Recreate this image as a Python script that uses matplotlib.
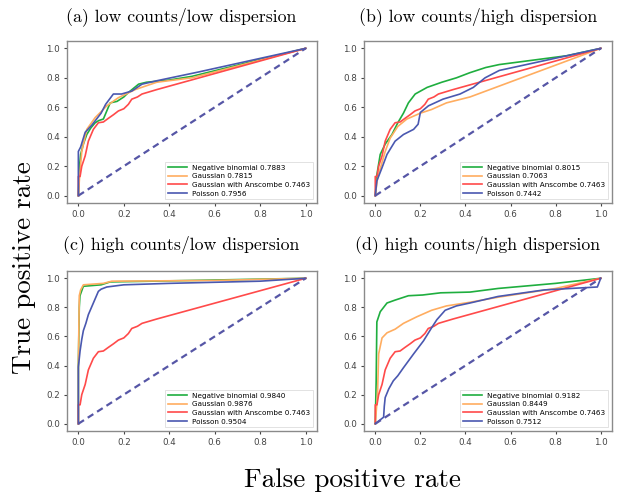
import matplotlib
matplotlib.use("Agg")
import matplotlib.pyplot as plt

# ---------------- data ----------------
titles = ["(a) low counts/low dispersion", "(b) low counts/high dispersion",
          "(c) high counts/low dispersion", "(d) high counts/high dispersion"]
series_names = ["Negative binomial", "Gaussian", "Gaussian with Anscombe", "Poisson"]
auc_a = [0.7883, 0.7815, 0.7463, 0.7956]
auc_b = [0.8015, 0.7063, 0.7463, 0.7442]
auc_c = [0.9840, 0.9876, 0.7463, 0.9504]
auc_d = [0.9182, 0.8449, 0.7463, 0.7512]

# Gaussian with Anscombe (same in all panels)
red_fpr = [0, 0, 0.0075, 0.015, 0.03, 0.044, 0.066, 0.088, 0.11, 0.132, 0.155, 0.176, 0.2, 0.22, 0.235, 0.26, 0.28, 0.345, 1.0]
red_tpr = [0, 0.13, 0.13, 0.2, 0.27, 0.37, 0.45, 0.495, 0.5, 0.525, 0.55, 0.575, 0.59, 0.62, 0.655, 0.67, 0.69, 0.72, 1.0]

# panel a
nb_a_fpr = [0, 0.005, 0.01, 0.022, 0.037, 0.055, 0.074, 0.09, 0.11, 0.125, 0.14, 0.17, 0.2, 0.22, 0.265, 0.3, 0.4, 0.5, 1.0]
nb_a_tpr = [0, 0.2, 0.28, 0.35, 0.415, 0.46, 0.495, 0.51, 0.52, 0.575, 0.63, 0.64, 0.67, 0.70, 0.757, 0.77, 0.785, 0.81, 1.0]
ga_a_fpr = [0, 0.005, 0.015, 0.037, 0.074, 0.1, 0.125, 0.176, 0.25, 0.345, 0.5, 1.0]
ga_a_tpr = [0, 0.12, 0.3, 0.45, 0.53, 0.57, 0.61, 0.665, 0.72, 0.77, 0.80, 1.0]
po_a_fpr = [0, 0, 0.01, 0.03, 0.06, 0.08, 0.10, 0.12, 0.154, 0.19, 0.235, 0.28, 0.345, 0.53, 1.0]
po_a_tpr = [0, 0.30, 0.33, 0.43, 0.48, 0.52, 0.56, 0.62, 0.69, 0.69, 0.71, 0.757, 0.78, 0.84, 1.0]

# panel b
nb_b_fpr = [0, 0.007, 0.022, 0.044, 0.074, 0.10, 0.125, 0.147, 0.177, 0.23, 0.295, 0.36, 0.42, 0.49, 0.55, 0.7, 0.85, 1.0]
nb_b_tpr = [0, 0.14, 0.28, 0.35, 0.415, 0.495, 0.56, 0.63, 0.69, 0.735, 0.77, 0.80, 0.835, 0.87, 0.89, 0.92, 0.95, 1.0]
ga_b_fpr = [0, 0.01, 0.044, 0.066, 0.10, 0.14, 0.2, 0.25, 0.316, 0.42, 1.0]
ga_b_tpr = [0, 0.12, 0.30, 0.39, 0.47, 0.52, 0.56, 0.585, 0.63, 0.67, 1.0]
po_b_fpr = [0, 0.007, 0.03, 0.052, 0.088, 0.125, 0.17, 0.19, 0.2, 0.236, 0.30, 0.376, 0.435, 0.487, 0.55, 0.7, 0.85, 1.0]
po_b_tpr = [0, 0.10, 0.19, 0.28, 0.37, 0.415, 0.45, 0.485, 0.565, 0.61, 0.655, 0.69, 0.735, 0.80, 0.85, 0.90, 0.95, 1.0]

# panel c
nb_c_fpr = [0, 0, 0.004, 0.007, 0.022, 0.1, 0.14, 0.5, 1.0]
nb_c_tpr = [0, 0.40, 0.80, 0.88, 0.945, 0.955, 0.975, 0.985, 1.0]
ga_c_fpr = [0, 0, 0.004, 0.01, 0.022, 0.11, 0.147, 0.6, 1.0]
ga_c_tpr = [0, 0.40, 0.88, 0.92, 0.955, 0.965, 0.98, 0.985, 1.0]
po_c_fpr = [0, 0, 0.0075, 0.015, 0.022, 0.033, 0.044, 0.055, 0.066, 0.077, 0.088, 0.1, 0.125, 0.2, 0.4, 0.8, 1.0]
po_c_tpr = [0, 0.39, 0.50, 0.58, 0.64, 0.69, 0.75, 0.79, 0.83, 0.87, 0.91, 0.925, 0.94, 0.955, 0.965, 0.98, 1.0]

# panel d
nb_d_fpr = [0, 0.004, 0.007, 0.022, 0.052, 0.088, 0.147, 0.21, 0.29, 0.42, 0.545, 0.8, 1.0]
nb_d_tpr = [0, 0.295, 0.70, 0.77, 0.83, 0.85, 0.88, 0.885, 0.90, 0.905, 0.93, 0.965, 1.0]
ga_d_fpr = [0, 0.005, 0.01, 0.015, 0.03, 0.052, 0.088, 0.125, 0.184, 0.25, 0.316, 0.42, 0.545, 0.8, 1.0]
ga_d_tpr = [0, 0.1, 0.2, 0.48, 0.59, 0.625, 0.65, 0.69, 0.735, 0.78, 0.81, 0.835, 0.87, 0.93, 1.0]
po_d_fpr = [0, 0.037, 0.04, 0.044, 0.06, 0.08, 0.1, 0.125, 0.17, 0.214, 0.25, 0.273, 0.31, 0.36, 0.42, 0.545, 0.75, 0.985, 1.0]
po_d_tpr = [0, 0.045, 0.12, 0.18, 0.24, 0.295, 0.33, 0.385, 0.48, 0.57, 0.66, 0.715, 0.78, 0.81, 0.83, 0.875, 0.92, 0.94, 1.0]

ticks = [0.0, 0.2, 0.4, 0.6, 0.8, 1.0]
tick_labels = ["0.0", "0.2", "0.4", "0.6", "0.8", "1.0"]

colors = ["#1fae3f", "#ffad60", "#ff4a4a", "#4a58b0"]
diag_color = "#5656a6"

panels = [
    (titles[0], auc_a, [(nb_a_fpr, nb_a_tpr), (ga_a_fpr, ga_a_tpr), (red_fpr, red_tpr), (po_a_fpr, po_a_tpr)]),
    (titles[1], auc_b, [(nb_b_fpr, nb_b_tpr), (ga_b_fpr, ga_b_tpr), (red_fpr, red_tpr), (po_b_fpr, po_b_tpr)]),
    (titles[2], auc_c, [(nb_c_fpr, nb_c_tpr), (ga_c_fpr, ga_c_tpr), (red_fpr, red_tpr), (po_c_fpr, po_c_tpr)]),
    (titles[3], auc_d, [(nb_d_fpr, nb_d_tpr), (ga_d_fpr, ga_d_tpr), (red_fpr, red_tpr), (po_d_fpr, po_d_tpr)]),
]

W, H = 617, 494
fig = plt.figure(figsize=(W / 100, H / 100), dpi=100)

def box(l, t, r, b):
    return [l / W, 1 - b / H, (r - l) / W, (b - t) / H]

positions = [box(67, 41, 317, 203), box(364, 41, 612, 203),
             box(67, 271, 317, 431), box(364, 271, 612, 431)]
title_pos = [(181, 17), (478, 17), (181, 245), (478, 245)]

for (title, aucs, curves), pos, tp in zip(panels, positions, title_pos):
    ax = fig.add_axes(pos)
    for (fx, fy), name, auc, c in zip(curves, series_names, aucs, colors):
        ax.plot(fx, fy, color=c, lw=1.2, label=f"{name} {auc:.4f}")
    ax.plot([0, 1], [0, 1], color=diag_color, lw=1.6, linestyle=(0, (3.0, 2.0)))
    ax.set_xlim(-0.05, 1.05)
    ax.set_ylim(-0.05, 1.05)
    ax.set_xticks(ticks)
    ax.set_xticklabels(tick_labels)
    ax.set_yticks(ticks)
    ax.set_yticklabels(tick_labels)
    ax.tick_params(labelsize=6.3, length=2.5, width=0.8, colors="#444444", pad=2.5)
    for s in ax.spines.values():
        s.set_color("#8a8a8a")
        s.set_linewidth(1.0)
    leg = ax.legend(loc="lower right", fontsize=5.2, handlelength=2.6,
                    borderpad=0.4, labelspacing=0.35, handletextpad=0.8,
                    framealpha=1.0, fancybox=False)
    leg.get_frame().set_edgecolor("#dddddd")
    leg.get_frame().set_linewidth(0.6)
    fig.text(tp[0] / W, 1 - tp[1] / H, title, family="cmr10", fontsize=12.8,
             ha="center", va="center")

fig.text(24 / W, 1 - 268 / H, "True positive rate", family="cmr10", fontsize=19.5,
         rotation=90, ha="center", va="center")
fig.text(352 / W, 1 - 480 / H, "False positive rate", family="cmr10", fontsize=19.5,
         ha="center", va="center")

fig.savefig("out.png", dpi=100)
